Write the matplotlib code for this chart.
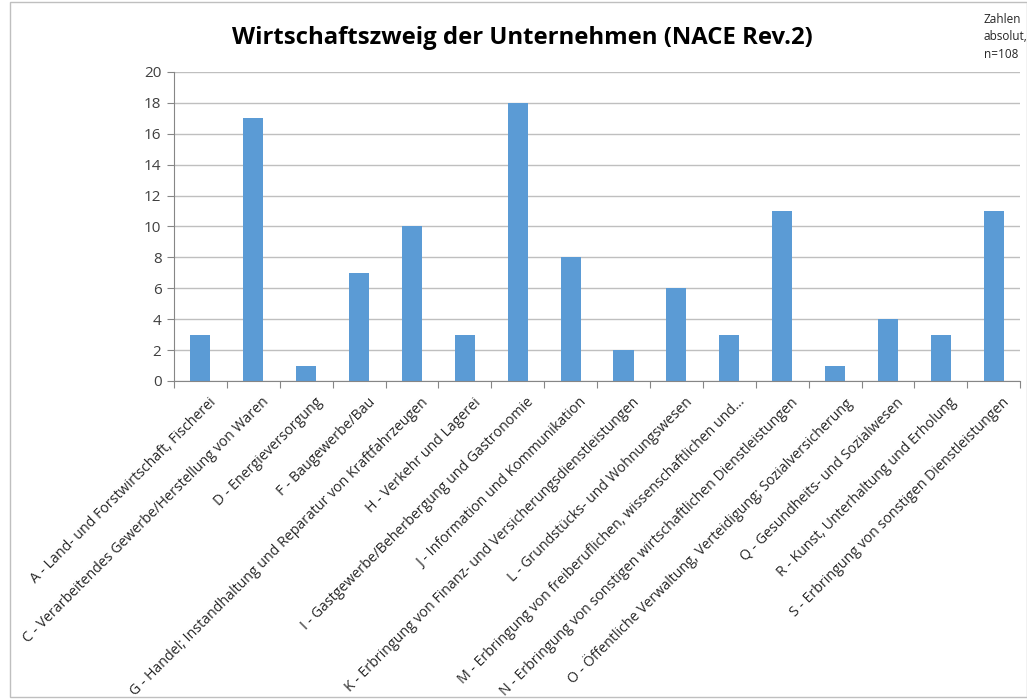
import matplotlib
matplotlib.use("Agg")
import matplotlib.pyplot as plt
from matplotlib.patches import Rectangle

# NACE sections and counts (n=108)
categories = [
    "A - Land- und Forstwirtschaft, Fischerei",
    "C - Verarbeitendes Gewerbe/Herstellung von Waren",
    "D - Energieversorgung",
    "F - Baugewerbe/Bau",
    "G - Handel; Instandhaltung und Reparatur von Kraftfahrzeugen",
    "H - Verkehr und Lagerei",
    "I - Gastgewerbe/Beherbergung und Gastronomie",
    "J - Information und Kommunikation",
    "K - Erbringung von Finanz- und Versicherungsdienstleistungen",
    "L - Grundstücks- und Wohnungswesen",
    "M - Erbringung von freiberuflichen, wissenschaftlichen und...",
    "N - Erbringung von sonstigen wirtschaftlichen Dienstleistungen",
    "O - Öffentliche Verwaltung, Verteidigung; Sozialversicherung",
    "Q - Gesundheits- und Sozialwesen",
    "R - Kunst, Unterhaltung und Erholung",
    "S - Erbringung von sonstigen Dienstleistungen",
]
counts = [3, 17, 1, 7, 10, 3, 18, 8, 2, 6, 3, 11, 1, 4, 3, 11]
y_ticks = list(range(0, 21, 2))

plt.rcParams["font.family"] = ["Open Sans", "DejaVu Sans"]

fig = plt.figure(figsize=(10.27, 6.99), dpi=100)
fig.patches.append(Rectangle((0.0097, 0.003), 0.99, 0.994, transform=fig.transFigure,
                             fill=False, edgecolor="#BFBFBF", linewidth=1))

ax = fig.add_axes([0.1694, 0.455, 0.824, 0.442])
x = list(range(len(categories)))
ax.bar(x, counts, width=0.38, color="#5B9BD5", zorder=2)

ax.set_xlim(-0.5, len(categories) - 0.5)
ax.set_ylim(0, 20)
ax.set_yticks(y_ticks)
ax.tick_params(axis="y", labelsize=11, colors="#868686", labelcolor="#404040",
               length=5, pad=4)
ax.grid(axis="y", color="#BFBFBF", linewidth=1, zorder=0)

# category boundaries as tick marks, labels at centres
ax.set_xticks([i - 0.5 for i in range(len(categories) + 1)])
ax.set_xticklabels([])
ax.tick_params(axis="x", length=5, colors="#868686")
for i, lab in enumerate(categories):
    ax.annotate(lab, xy=(i, 0), xycoords=("data", "axes fraction"),
                xytext=(6, -10), textcoords="offset points",
                rotation=45, ha="right", va="top", rotation_mode="anchor",
                fontsize=10.2, color="#262626")

for side in ["top", "right"]:
    ax.spines[side].set_visible(False)
ax.spines["left"].set_color("#868686")
ax.spines["bottom"].set_color("#868686")

fig.text(0.509, 0.945, "Wirtschaftszweig der Unternehmen (NACE Rev.2)",
         ha="center", va="center", fontsize=17.2, fontweight="bold", color="#000000")
fig.text(0.958, 0.982, "Zahlen\nabsolut,\nn=108", ha="left", va="top",
         fontsize=8.5, color="#262626", linespacing=1.45)

fig.savefig("out.png", dpi=100)
